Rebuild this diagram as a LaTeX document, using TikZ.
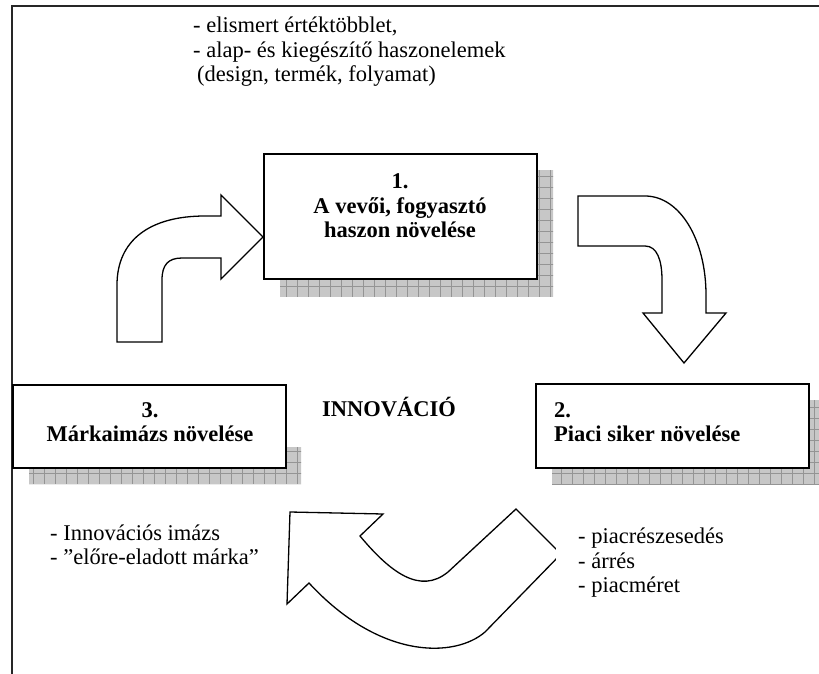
\documentclass[tikz,border=0pt]{standalone}
\usepackage{fontspec}
\setmainfont{Liberation Serif}
\begin{document}
\begin{tikzpicture}[x=1pt,y=-1pt,
  boxstyle/.style={draw=black, line width=1.8pt, fill=white, rectangle, inner sep=0pt, minimum width=273pt},
  blockarrow/.style={draw=black, line width=1.3pt, fill=white, line join=miter},
  frameline/.style={line width=2.6pt, draw=black!85},
  shadowfill/.style={fill=black!22},
  shadowgrid/.style={draw=black!42, line width=0.6pt},
  lbl/.style={font=\fontsize{22.5}{24.5}\selectfont, inner sep=0pt, align=left},
  blbl/.style={font=\fontsize{22.5}{24.5}\selectfont\bfseries, inner sep=0pt},
]
\useasboundingbox (0,0) rectangle (819,674);

% outer frame: only the top and left rules are drawn
\draw[frameline] (12,674) -- (12,6) -- (819,6);

% grid-patterned drop shadows
\begin{scope}
  \clip (280,170) rectangle (553,296);
  \fill[shadowfill] (270,160) rectangle (560,300);
  \draw[shadowgrid, step=11pt] (270,160) grid (560,300);
\end{scope}
\begin{scope}
  \clip (552,400) rectangle (825,484);
  \fill[shadowfill] (540,390) rectangle (830,490);
  \draw[shadowgrid, step=11pt] (540,390) grid (830,490);
\end{scope}
\begin{scope}
  \clip (29,468) -- (29,484) -- (301,484) -- (301,447) -- (286,447) -- (286,468) -- cycle;
  \fill[shadowfill] (20,440) rectangle (310,490);
  \draw[shadowgrid, step=11pt] (20,440) grid (310,490);
\end{scope}

% the three boxes
\node[boxstyle, minimum height=125pt] (b1) at (400.5,216.5) {};
\node[boxstyle, minimum height=84pt] (b2) at (672.5,426) {};
\node[boxstyle, minimum height=83pt] (b3) at (149.5,426.5) {};

\node[blbl, align=center] (t1) at (400,206) {1.\\A vevői, fogyasztó\\haszon növelése};
\node[blbl, align=left, anchor=west] (t2) at (554,422) {2.\\Piaci siker növelése};
\node[blbl, align=center] (t3) at (150,422) {3.\\Márkaimázs növelése};

\node[blbl] (inno) at (389,407) {INNOVÁCIÓ};

% block arrows of the cycle
\draw[blockarrow] (117,342) -- (117,285) .. controls (117,240) and (150,216) .. (205,216)
  -- (221,216) -- (221,195) -- (263,237) -- (221,279) -- (221,258) -- (182,258)
  .. controls (168,258) and (162,265) .. (162,280) -- (162,342) -- cycle;

\draw[blockarrow] (578,196) -- (645,196) .. controls (680,196) and (706,240) .. (706,295)
  -- (706,313) -- (726,313) -- (684,363) -- (643,313) -- (662,313) -- (662,280)
  .. controls (662,260) and (657,246) .. (645,246) -- (578,246) -- cycle;

\draw[blockarrow] (516,509) -- (561,554) -- (485,632)
  .. controls (455,658) and (380,660) .. (309,583)
  -- (287,604) -- (290,512) -- (383,514) -- (360,536)
  .. controls (390,572) and (420,595) .. (448,572) -- cycle;

% annotations
\node[lbl, anchor=west] (benefits) at (193,52)
  {- elismert értéktöbblet,\\- alap- és kiegészítő haszonelemek\\\hspace*{4pt}(design, termék, folyamat)};
\node[lbl, anchor=west] (brand) at (50,545) {- Innovációs imázs\\- ”előre-eladott márka”};
\node[lbl, anchor=north west, fill=white, inner xsep=22pt, inner ysep=6pt] (market) at (556,522)
  {- piacrészesedés\\- árrés\\- piacméret};
\end{tikzpicture}
\end{document}
